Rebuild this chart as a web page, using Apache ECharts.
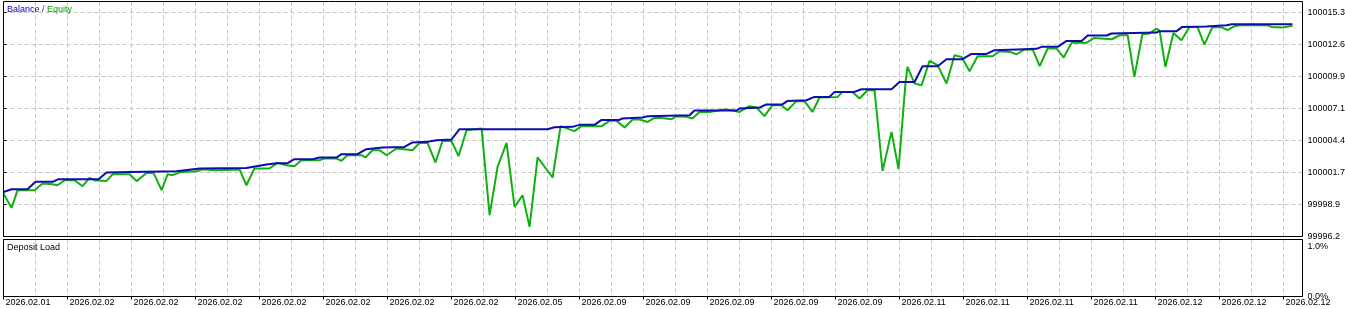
<!DOCTYPE html>
<html><head><meta charset="utf-8">
<script src="https://cdn.jsdelivr.net/npm/echarts@6/dist/echarts.min.js"></script>
<style>html,body{margin:0;padding:0;background:#fff;}#c{width:1345px;height:309px;}</style>
</head><body><div id="c"></div>
<script>
// ---- data ----
const dateLabels = ['2026.02.01','2026.02.02','2026.02.02','2026.02.02','2026.02.02','2026.02.02','2026.02.02','2026.02.02','2026.02.05','2026.02.09','2026.02.09','2026.02.09','2026.02.09','2026.02.09','2026.02.11','2026.02.11','2026.02.11','2026.02.11','2026.02.12','2026.02.12','2026.02.12'];
const yTickLabels = ['99996.2','99998.9','100001.7','100004.4','100007.1','100009.9','100012.6','100015.3'];
const depositTickLabels = ['0.0%','1.0%'];

const balanceX = [0,2.5,7.5,10,15.3,17.2,29.7,32.2,39.4,54.1,61.3,75.9,82.2,85.3,88.8,90.9,96.6,98.8,104.1,105.6,110.6,113.4,118.4,125.3,127.8,132.5,135.3,140,142.5,170,172.2,177.8,180,184.7,186.9,192.5,193.4,199.7,201.3,214.4,215.9,229.1,230,236.3,238.4,243.4,245,250.9,253.4,258.1,259.7,265.9,268.1,277.5,280,284.7,287.2,291.9,294.7,299.7,302.5,307.2,309.7,316.9,322.8,324.4,329.4,332.2,336.9,338.8,344.7,346.3,360.3,361.3,366.6,368.4,375.9,382.2,383.8,402.8];
const balanceY = [100000.00,100000.23,100000.23,100000.86,100000.86,100001.09,100001.09,100001.66,100001.71,100001.77,100002.00,100002.05,100002.34,100002.45,100002.45,100002.79,100002.79,100002.94,100002.94,100003.22,100003.22,100003.64,100003.79,100003.84,100004.22,100004.27,100004.41,100004.47,100005.35,100005.35,100005.52,100005.55,100005.72,100005.72,100006.14,100006.14,100006.26,100006.35,100006.46,100006.54,100006.94,100006.94,100007.11,100007.20,100007.46,100007.46,100007.76,100007.82,100008.10,100008.10,100008.53,100008.53,100008.76,100008.76,100009.38,100009.38,100010.72,100010.72,100011.32,100011.32,100011.77,100011.77,100012.09,100012.15,100012.20,100012.37,100012.37,100012.88,100012.88,100013.34,100013.34,100013.51,100013.59,100013.71,100013.71,100014.07,100014.11,100014.22,100014.30,100014.30];

const equityX = [0,2.5,4.4,9.7,12.2,15.3,16.9,19.1,22.2,24.7,26.9,28.4,32.2,34.1,39.4,41.6,44.7,46.9,49.4,51.3,52.8,55.6,60.3,62.2,66.6,73.8,75.9,78.4,83.1,85.6,88.4,90.9,93.1,98.8,100.3,104.1,105.6,107.5,111.9,113.1,115.3,117.5,119.7,122.8,125.9,127.8,130,132.5,135,137.2,140,142.2,144.7,149.4,151.9,154.4,157.2,159.7,162.2,164.4,166.9,171.6,174.1,178.4,180.6,186.9,189.4,191.6,194.1,196.6,198.8,201.3,203.4,205.9,208.8,210.3,213.4,215.3,217.5,220.6,225.3,227.5,230,233.1,235.3,237.8,240.3,243.1,245,247.8,250.3,252.8,255,260.6,262.2,265.3,267.5,270,272.2,274.7,277.5,279.7,281.9,282.5,284.7,286.9,289.4,291.9,294.7,297.2,299.4,301.9,304.4,309.1,311.3,314.4,316.6,319.1,321.6,323.8,326.3,329.1,331.3,333.8,338.4,340.9,346.3,348.8,351.3,353.4,355.9,358.1,360.3,361.3,363.1,365.6,368.1,370.6,373.1,375.3,377.8,380.9,382.5,384.7,386.3,394.7,396.3,399.7,402.8];
const equityY = [99999.87,99998.64,100000.15,100000.15,100000.72,100000.66,100000.57,100001.00,100001.00,100000.49,100001.20,100001.00,100000.94,100001.51,100001.51,100000.92,100001.62,100001.62,100000.15,100001.51,100001.43,100001.71,100001.77,100001.94,100001.85,100001.91,100000.57,100002.00,100002.00,100002.48,100002.28,100002.19,100002.71,100002.71,100002.85,100002.85,100002.65,100003.13,100003.13,100002.94,100003.56,100003.56,100003.13,100003.70,100003.62,100003.56,100004.18,100004.18,100002.51,100004.35,100004.35,100003.05,100005.26,100005.41,99998.02,100002.13,100004.18,99998.72,99999.72,99997.02,100002.94,100001.23,100005.61,100005.18,100005.61,100005.61,100006.06,100006.06,100005.49,100006.18,100006.18,100005.97,100006.31,100006.31,100006.20,100006.46,100006.40,100006.26,100006.82,100006.82,100007.03,100006.97,100006.82,100007.31,100007.20,100006.46,100007.40,100007.40,100006.97,100007.74,100007.74,100006.82,100008.05,100008.10,100008.53,100008.53,100007.97,100008.67,100008.67,100001.79,100005.12,100001.94,100009.38,100010.66,100009.25,100009.10,100011.17,100010.81,100009.25,100011.66,100011.51,100010.29,100011.57,100011.57,100012.00,100011.94,100011.74,100012.15,100012.15,100010.72,100012.23,100012.23,100011.46,100012.71,100012.71,100013.13,100013.02,100013.36,100013.36,100009.81,100013.45,100013.51,100013.94,100013.73,100010.66,100013.56,100012.94,100014.07,100014.07,100012.57,100014.07,100014.02,100013.79,100014.13,100014.22,100014.22,100014.07,100014.02,100014.16];

// ---- layout / style ----
const FONT = '"Liberation Sans", Arial, sans-serif';
const FS = 9;
const PLOT_LEFT = 3.5, PLOT_W = 1299;
const X_PER_GRID = 10;                    // one vertical grid line every 10 units (32 px)
const X_MAX = PLOT_W / 32 * X_PER_GRID;   // plot width in x units
const yMin = parseFloat(yTickLabels[0]);
const yStep = (parseFloat(yTickLabels[yTickLabels.length - 1]) - yMin) / (yTickLabels.length - 1);
const MAIN_TOP = 1.5, MAIN_H = 235;
const yMax = yMin + MAIN_H / 32 * yStep;
const gridColor = '#c4c4c4';
const dash = [4, 3];
const split = {show: true, showMinLine: false, showMaxLine: false, lineStyle: {color: gridColor, type: dash, width: 1}};

const pairs = (xs, ys) => xs.map((x, i) => [x, ys[i]]);

const chart = echarts.init(document.getElementById('c'), null, {renderer: 'canvas'});
chart.setOption({
  animation: false,
  backgroundColor: '#fff',
  textStyle: {fontFamily: FONT, fontSize: FS},
  grid: [
    {left: PLOT_LEFT, top: MAIN_TOP, width: PLOT_W, height: MAIN_H, show: true, borderColor: '#000', borderWidth: 1,
     backgroundColor: 'transparent', z: 10, containLabel: false, outerBoundsMode: 'none'},
    {left: PLOT_LEFT, top: 239.5, width: PLOT_W, height: 57, show: true, borderColor: '#000', borderWidth: 1,
     backgroundColor: 'transparent', z: 10, containLabel: false, outerBoundsMode: 'none'}
  ],
  xAxis: [
    {gridIndex: 0, type: 'value', min: 0, max: X_MAX, interval: X_PER_GRID,
     axisLine: {show: false}, axisTick: {show: false}, axisLabel: {show: false}, splitLine: split},
    {gridIndex: 1, type: 'value', position: 'top', min: 0, max: X_MAX, interval: X_PER_GRID,
     axisLine: {show: false}, axisTick: {show: false}, axisLabel: {show: false}, splitLine: split},
    {gridIndex: 1, type: 'value', position: 'bottom', min: 0, max: X_MAX, interval: 2 * X_PER_GRID,
     axisLine: {show: false},
     axisTick: {show: true, length: 3, inside: false, lineStyle: {color: '#000'}},
     splitLine: {show: false},
     axisLabel: {show: true, showMaxLabel: false, align: 'left', verticalAlign: 'top', margin: 2,
       padding: [0, 0, 0, 2], color: '#000', fontFamily: FONT, fontSize: FS,
       formatter: v => { const i = Math.round(v / (2 * X_PER_GRID)); return Math.abs(v - i * 2 * X_PER_GRID) < 1e-6 && dateLabels[i] ? dateLabels[i] : ''; }}}
  ],
  yAxis: [
    {gridIndex: 0, type: 'value', position: 'right', min: yMin, max: yMax, interval: yStep,
     axisLine: {show: false},
     axisTick: {show: true, length: 3, inside: false, lineStyle: {color: '#000'}},
     splitLine: split,
     axisLabel: {show: true, showMaxLabel: false, margin: 5, align: 'left', padding: [3, 0, 0, 0],
       color: '#000', fontFamily: FONT, fontSize: FS,
       formatter: v => { const i = Math.round((v - yMin) / yStep); return yTickLabels[i] || ''; }}},
    {gridIndex: 1, type: 'value', position: 'right', min: 0, max: 1, interval: 1,
     axisLine: {show: false},
     axisTick: {show: true, length: 3, inside: false, lineStyle: {color: '#000'}},
     splitLine: {show: false},
     axisLabel: {show: true, margin: 5, align: 'left', color: '#000', fontFamily: FONT, fontSize: FS,
       formatter: v => v >= 1 ? '{t|' + depositTickLabels[1] + '}' : '{b|' + depositTickLabels[0] + '}',
       rich: {t: {padding: [14, 0, 0, 0], fontFamily: FONT, fontSize: FS, color: '#000'},
              b: {padding: [0, 0, 0, 0], fontFamily: FONT, fontSize: FS, color: '#000'}}}}
  ],
  graphic: [
    {type: 'text', left: 7, top: 5, z: 100, style: {
      text: '{b|Balance} {s|/} {e|Equity}', font: FS + 'px ' + FONT,
      rich: {b: {fill: '#0000c0', font: FS + 'px ' + FONT}, s: {fill: '#404040', font: FS + 'px ' + FONT}, e: {fill: '#00a000', font: FS + 'px ' + FONT}}}},
    {type: 'text', left: 7, top: 243, z: 100, style: {text: 'Deposit Load', fill: '#000', font: FS + 'px ' + FONT}}
  ],
  series: [
    {name: 'Equity', type: 'line', xAxisIndex: 0, yAxisIndex: 0, data: pairs(equityX, equityY),
     showSymbol: false, symbol: 'none', lineStyle: {color: '#10b010', width: 2}, itemStyle: {color: '#10b010'}, z: 2},
    {name: 'Balance', type: 'line', xAxisIndex: 0, yAxisIndex: 0, data: pairs(balanceX, balanceY),
     showSymbol: false, symbol: 'none', lineStyle: {color: '#0c0cb0', width: 2}, itemStyle: {color: '#0c0cb0'}, z: 3}
  ]
});
</script>
</body></html>
